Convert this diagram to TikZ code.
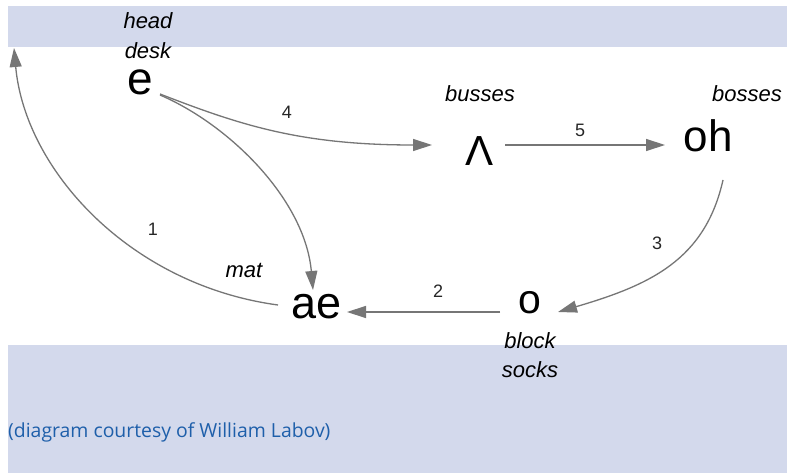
\documentclass[tikz,border=0pt]{standalone}
\usepackage{fontspec}
\setmainfont{Liberation Sans}
\newfontfamily\capfont{Open Sans}
\usetikzlibrary{arrows.meta}
\definecolor{lav}{RGB}{211,217,236}
\definecolor{arrgray}{RGB}{118,118,118}
\definecolor{capblue}{RGB}{30,95,170}
\tikzset{
  vowel/.style={inner sep=0pt, anchor=base, text=black},
  word/.style={inner sep=0pt, anchor=base, font=\fontsize{22}{26}\selectfont\itshape},
  num/.style={inner sep=0pt, font=\fontsize{18}{20}\selectfont, text=black!85},
  arr/.style={draw=arrgray, line width=1.3pt, -{Triangle[length=19pt,width=12pt]}, arrgray},
}
\begin{document}
\begin{tikzpicture}[x=1pt,y=-1pt]
\useasboundingbox (0,0) rectangle (787,473);
\fill[white] (0,0) rectangle (787,473);
\fill[lav] (8,6) rectangle (787,47);
\fill[lav] (8,345) rectangle (787,473);

% vowels
\node[vowel, font=\fontsize{46}{48}\selectfont] (e) at (140,95) {e};
\node[vowel, font=\fontsize{42}{44}\selectfont] (wedge) at (480,166) {Λ};
\node[vowel, font=\fontsize{44}{46}\selectfont] (oh) at (708,152) {oh};
\node[vowel, font=\fontsize{45}{46}\selectfont] (ae) at (317,318) {ae};
\node[vowel, font=\fontsize{41}{42}\selectfont] (o) at (530,313) {o};
\coordinate (c1) at (14,48);

% words
\node[word] (head) at (148,29) {head};
\node[word] (desk) at (148,59) {desk};
\node[word] (busses) at (480,102) {busses};
\node[word] (bosses) at (747,102) {bosses};
\node[word] (mat) at (244,277) {mat};
\node[word] (block) at (530,348) {block};
\node[word] (socks) at (530,377) {socks};

% numbers
\node[num] (n4) at (287,112) {4};
\node[num] (n5) at (580,130) {5};
\node[num] (n2) at (438,291) {2};
\node[num] (n3) at (657,243) {3};
\node[num] (n1) at (153,229) {1};

% connectors
\draw[arr] ([shift={(20,-1)}]e.base) .. controls +(80,31) and +(-132,0) .. ([shift={(-48,-21)}]wedge.base);
\draw[arr] ([shift={(20,0)}]e.base) .. controls +(70,30) and +(-8,-90) .. ([shift={(-4,-28)}]ae.base);
\draw[arr] ([shift={(25,-21)}]wedge.base) -- ([shift={(-43,-7)}]oh.base);
\draw[arr] ([shift={(15,28)}]oh.base) .. controls +(-18,80) and +(92,-27) .. ([shift={(28,-1)}]o.base);
\draw[arr] ([shift={(-30,-1)}]o.base) -- ([shift={(30,-6)}]ae.base);
\draw[arr] ([shift={(-39,-13)}]ae.base) .. controls +(-148,-20) and +(11,122) .. (c1);

% caption
\node[inner sep=0pt, anchor=base west, text=capblue, font=\capfont\fontsize{19.4}{21}\selectfont] (cap) at (8,437) {(diagram courtesy of William Labov)};
\end{tikzpicture}
\end{document}
